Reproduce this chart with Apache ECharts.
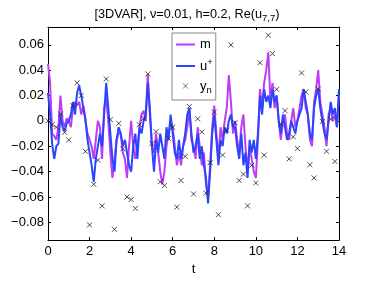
<!DOCTYPE html>
<html><head><meta charset="utf-8">
<script src="https://cdn.jsdelivr.net/npm/echarts@6/dist/echarts.min.js"></script>
<style>html,body{margin:0;padding:0;background:#fff}#c{width:374px;height:281px}</style>
</head><body><div id="c"></div>
<script>
const lineStep = 0.1;
const obsStep = 0.2;
const mValues = [
 0.045,0.030,-0.010,-0.012,-0.015,-0.005,0.020,0.000,-0.005,0.002,
 0.000,-0.005,0.010,0.015,0.012,0.015,0.005,0.012,0.000,-0.010,
 -0.015,-0.020,-0.030,-0.015,0.000,-0.005,-0.030,0.010,0.018,0.000,
 -0.025,-0.045,-0.030,-0.015,-0.010,-0.010,-0.025,-0.030,-0.045,-0.020,
 0.000,-0.020,-0.030,-0.020,-0.005,0.005,0.008,0.000,0.037,0.005,
 -0.020,-0.025,-0.010,-0.025,-0.040,-0.050,-0.040,-0.020,-0.010,0.000,
 -0.005,-0.020,-0.035,-0.025,-0.035,-0.020,-0.015,-0.005,0.010,-0.015,
 -0.020,-0.030,-0.005,-0.020,-0.035,-0.025,-0.050,-0.060,-0.035,-0.005,
 0.012,-0.010,-0.030,-0.005,-0.015,0.000,0.010,0.036,0.015,-0.010,
 0.000,-0.015,-0.025,-0.005,0.005,-0.020,-0.040,-0.020,-0.030,-0.040,
 -0.045,-0.015,0.025,0.010,0.030,0.040,0.054,0.015,0.030,0.010,
 0.020,0.000,-0.015,0.000,0.005,-0.010,-0.015,0.000,0.010,-0.005,
 0.000,0.010,0.020,0.025,0.010,0.005,-0.015,-0.020,0.015,0.025,
 0.040,0.015,0.005,-0.005,-0.020,0.005,0.010,0.000,0.005,-0.005,
 0.020
];
const uValues = [
 0.022,0.005,-0.018,-0.030,-0.020,-0.018,0.005,-0.005,-0.008,-0.002,
 0.000,0.005,0.015,0.005,0.022,0.028,0.020,0.010,0.002,-0.015,
 -0.025,-0.035,-0.048,-0.030,-0.020,-0.010,-0.020,0.005,0.030,0.010,
 -0.010,-0.030,-0.040,-0.015,-0.005,-0.010,-0.020,-0.015,-0.025,-0.035,
 -0.040,-0.020,-0.010,-0.030,-0.005,-0.010,0.000,0.005,0.030,0.010,
 -0.020,-0.040,-0.015,-0.025,-0.010,-0.020,-0.030,-0.005,-0.015,0.005,
 -0.010,-0.025,-0.030,-0.015,-0.030,-0.020,-0.010,0.005,0.010,-0.010,
 -0.025,-0.020,-0.010,-0.030,-0.020,-0.035,-0.045,-0.065,-0.040,-0.010,
 0.005,-0.015,-0.035,-0.015,-0.020,-0.005,-0.010,0.000,0.005,-0.005,
 -0.005,-0.020,-0.030,-0.010,-0.035,-0.025,-0.045,-0.015,-0.025,-0.015,
 -0.030,-0.010,0.020,0.005,0.025,0.015,0.020,0.010,0.025,0.015,
 0.020,0.000,-0.010,0.005,-0.005,-0.015,-0.010,0.000,-0.005,-0.010,
 0.000,0.005,0.010,0.025,0.015,0.005,-0.010,-0.015,0.010,0.020,
 0.025,0.010,0.000,-0.010,-0.015,0.000,0.015,0.005,0.010,-0.005,
 0.025
];
const yObs = [
 0.000,-0.003,-0.005,0.0055,-0.009,-0.015,0.012,0.030,0.020,-0.024,
 -0.082,-0.050,-0.031,-0.067,0.033,0.001,-0.0855,-0.002,-0.022,-0.060,
 -0.062,-0.069,-0.003,0.002,0.037,-0.018,-0.0085,-0.048,-0.051,-0.014,
 -0.005,-0.068,-0.047,-0.028,0.0114,-0.0576,0.0016,-0.0087,-0.057,-0.033,
 0.007,-0.074,-0.027,-0.0074,0.0598,-0.0015,-0.047,-0.042,-0.067,-0.035,
 -0.049,0.0458,-0.027,0.0675,0.053,0.0249,-0.0026,0.008,-0.030,-0.0126,
 -0.0217,0.0378,0.0228,-0.0346,-0.045,0.0251,-0.0005,-0.024,0.0013,-0.032
];
const xTicks = [0,2,4,6,8,10,12,14];
const yTicks = [-0.08,-0.06,-0.04,-0.02,0,0.02,0.04,0.06];

const toPairs = (vals, step) => vals.map((v,i)=>[+(i*step).toFixed(2), v]);
const FONT = 'Liberation Sans';
const fmtY = v => { const r = Math.round(v*100)/100; return r===0 ? '0' : r.toFixed(2).replace('-', '\u2212'); };
const axisCommon = {
  axisLine:{show:true, onZero:false, lineStyle:{color:'#000', width:1}},
  axisTick:{show:true, inside:true, length:3, lineStyle:{color:'#000', width:1}},
  splitLine:{show:false}
};
const chart = echarts.init(document.getElementById('c'), null, {renderer:'canvas'});
chart.setOption({
  animation:false,
  backgroundColor:'#fff',
  title:{
    text:'[3DVAR], \u03bd=0.01, h=0.2, Re(u{sub|7,7})',
    left:'center', top:1,
    textStyle:{fontFamily:FONT, fontSize:12.7, fontWeight:'normal', color:'#000',
      rich:{sub:{fontFamily:FONT, fontSize:9.5, color:'#000', padding:[7,0,0,0]}}}
  },
  grid:{left:48, right:35, top:27, bottom:37},
  legend:{
    orient:'vertical', left:172, top:33,
    padding:[4,3,5,3], itemGap:5,
    itemWidth:19, itemHeight:5, symbolKeepAspect:true,
    backgroundColor:'#fff', borderColor:'#888', borderWidth:1,
    data:[
      {name:'m', itemStyle:{opacity:0}},
      {name:'u+', itemStyle:{opacity:0}},
      {name:'y_n', itemStyle:{color:'rgba(0,0,0,0)', borderColor:'#222', borderWidth:0.8}}
    ],
    formatter: n => n==='u+' ? 'u{sup|+}' : (n==='y_n' ? 'y{sub|n}' : 'm'),
    textStyle:{fontFamily:FONT, fontSize:13, color:'#000', lineHeight:15,
      rich:{
        sup:{fontFamily:FONT, fontSize:9.5, color:'#000', padding:[0,0,8,0]},
        sub:{fontFamily:FONT, fontSize:9.5, color:'#000', padding:[8,0,0,0]}
      }}
  },
  xAxis:[
    Object.assign({type:'value', min:0, max:14, interval:2, position:'bottom',
      name:'t', nameLocation:'middle', nameGap:21,
      nameTextStyle:{fontFamily:FONT, fontSize:13, color:'#000'},
      axisLabel:{fontFamily:FONT, fontSize:13, color:'#000', margin:5,
        customValues:xTicks}}, axisCommon,
      {axisTick:Object.assign({}, axisCommon.axisTick, {customValues:xTicks})}),
    Object.assign({type:'value', min:0, max:14, interval:2, position:'top',
      axisLabel:{show:false}}, axisCommon,
      {axisTick:Object.assign({}, axisCommon.axisTick, {customValues:xTicks})})
  ],
  yAxis:[
    Object.assign({type:'value', min:-0.094, max:0.074, position:'left',
      axisLabel:{fontFamily:FONT, fontSize:13, color:'#000', margin:4,
        customValues:yTicks, formatter:fmtY}}, axisCommon,
      {axisTick:Object.assign({}, axisCommon.axisTick, {customValues:yTicks})}),
    Object.assign({type:'value', min:-0.094, max:0.074, position:'right',
      axisLabel:{show:false}}, axisCommon,
      {axisTick:Object.assign({}, axisCommon.axisTick, {customValues:yTicks})})
  ],
  series:[
    {name:'m', type:'line', data:toPairs(mValues, lineStep), symbol:'none',
      lineStyle:{color:'#bf3cf5', width:2}, itemStyle:{color:'#bf3cf5'}, z:2},
    {name:'u+', type:'line', data:toPairs(uValues, lineStep), symbol:'none',
      lineStyle:{color:'#2a44ff', width:2}, itemStyle:{color:'#2a44ff'}, z:3},
    {name:'y_n', type:'scatter', data:toPairs(yObs, obsStep),
      symbol:'path://M0,0L10,10M10,0L0,10', symbolSize:5,
      itemStyle:{color:'rgba(0,0,0,0)', borderColor:'#222', borderWidth:1}, z:4}
  ]
});
</script></body></html>
